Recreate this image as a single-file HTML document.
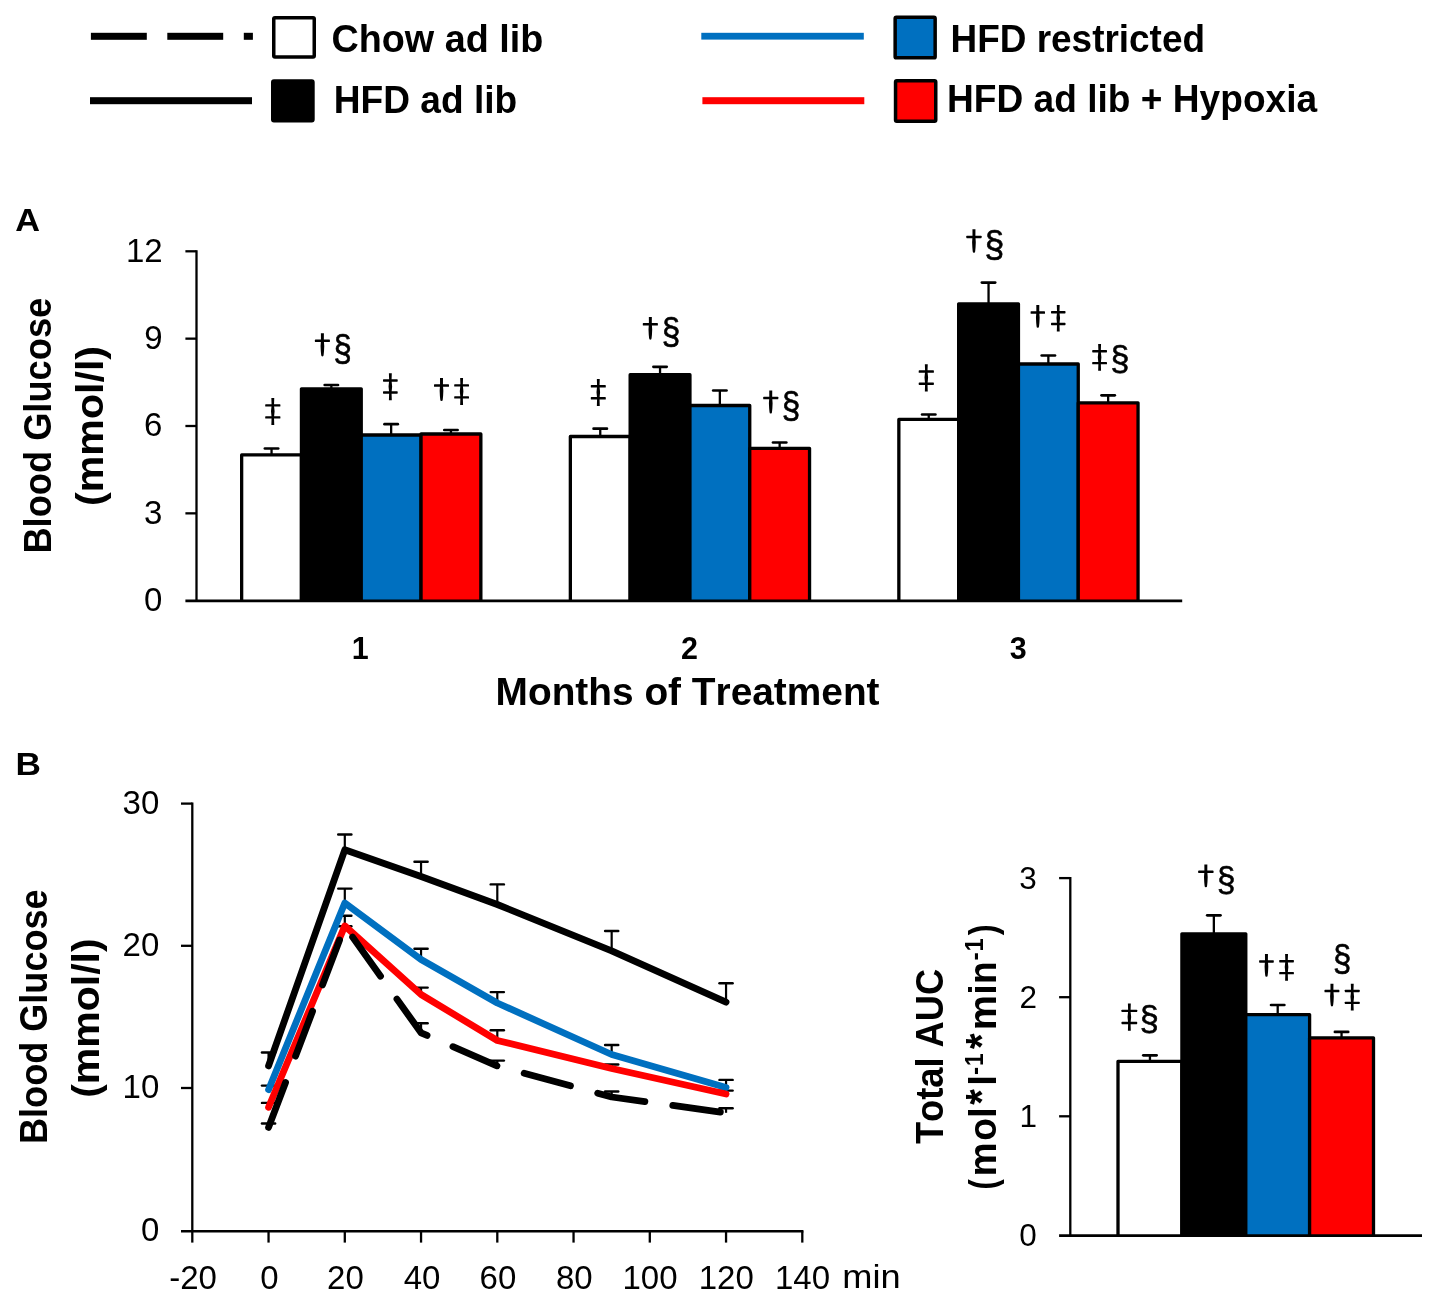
<!DOCTYPE html>
<html><head><meta charset="utf-8"><style>
html,body{margin:0;padding:0;background:#fff;}
svg{display:block;will-change:transform;}
text{font-family:"Liberation Sans", sans-serif;font-kerning:none;}
</style></head><body>
<svg width="1429" height="1297" viewBox="0 0 1429 1297">
<rect width="1429" height="1297" fill="#fff"/>
<rect x="90.9" y="32.8" width="55.9" height="7" fill="#000"/>
<rect x="167.3" y="32.8" width="55.9" height="7" fill="#000"/>
<rect x="243.8" y="32.8" width="9.1" height="7" fill="#000"/>
<rect x="90" y="97.2" width="162" height="7" fill="#000"/>
<rect x="701.3" y="32.800000000000004" width="162.5" height="6.8" fill="#0070C0"/>
<rect x="702.4" y="97.2" width="161.9" height="7" fill="#FF0000"/>
<rect x="273.75" y="17.65" width="40.50" height="39.30" rx="1.2" fill="#fff" stroke="#000" stroke-width="3.5"/>
<rect x="272.75" y="80.95" width="40.20" height="39.70" rx="1.2" fill="#000" stroke="#000" stroke-width="3.5"/>
<rect x="895.15" y="17.35" width="40.00" height="40.50" rx="1.2" fill="#0070C0" stroke="#000" stroke-width="3.5"/>
<rect x="895.55" y="80.75" width="40.20" height="40.40" rx="1.2" fill="#FF0000" stroke="#000" stroke-width="3.5"/>
<text x="331.45" y="51.80" font-size="39.7" font-weight="bold" textLength="211.80" lengthAdjust="spacingAndGlyphs" fill="#000" >Chow ad lib</text>
<text x="333.82" y="112.80" font-size="39.7" font-weight="bold" textLength="183.40" lengthAdjust="spacingAndGlyphs" fill="#000" >HFD ad lib</text>
<text x="950.53" y="51.60" font-size="39.7" font-weight="bold" textLength="254.51" lengthAdjust="spacingAndGlyphs" fill="#000" >HFD restricted</text>
<text x="947.02" y="111.90" font-size="39.7" font-weight="bold" textLength="370.15" lengthAdjust="spacingAndGlyphs" fill="#000" >HFD ad lib + Hypoxia</text>
<text x="15.15" y="231.40" font-size="31.5" font-weight="bold" textLength="24.76" lengthAdjust="spacingAndGlyphs" fill="#000" >A</text>
<text x="15.64" y="775.30" font-size="31.5" font-weight="bold" textLength="25.46" lengthAdjust="spacingAndGlyphs" fill="#000" >B</text>
<line x1="196.5" y1="250.15" x2="196.5" y2="600.70" stroke="#000" stroke-width="2.3"/>
<line x1="185.4" y1="513.35" x2="196.5" y2="513.35" stroke="#000" stroke-width="2.3"/>
<line x1="185.4" y1="426.00" x2="196.5" y2="426.00" stroke="#000" stroke-width="2.3"/>
<line x1="185.4" y1="338.65" x2="196.5" y2="338.65" stroke="#000" stroke-width="2.3"/>
<line x1="185.4" y1="251.30" x2="196.5" y2="251.30" stroke="#000" stroke-width="2.3"/>
<text x="143.94" y="610.90" font-size="33" font-weight="normal" textLength="18.35" lengthAdjust="spacingAndGlyphs" fill="#000" >0</text>
<text x="144.10" y="523.55" font-size="33" font-weight="normal" textLength="18.35" lengthAdjust="spacingAndGlyphs" fill="#000" >3</text>
<text x="144.10" y="436.20" font-size="33" font-weight="normal" textLength="18.35" lengthAdjust="spacingAndGlyphs" fill="#000" >6</text>
<text x="144.21" y="348.85" font-size="33" font-weight="normal" textLength="18.35" lengthAdjust="spacingAndGlyphs" fill="#000" >9</text>
<text x="125.95" y="261.50" font-size="33" font-weight="normal" textLength="36.71" lengthAdjust="spacingAndGlyphs" fill="#000" >12</text>
<path d="M241.65,600.70 V454.90 H301.45 V600.70" fill="#fff" stroke="#000" stroke-width="3.3" stroke-linejoin="round"/>
<path d="M301.45,600.70 V388.80 H361.25 V600.70" fill="#000" stroke="#000" stroke-width="3.3" stroke-linejoin="round"/>
<path d="M361.25,600.70 V435.00 H421.05 V600.70" fill="#0070C0" stroke="#000" stroke-width="3.3" stroke-linejoin="round"/>
<path d="M421.05,600.70 V434.00 H480.85 V600.70" fill="#FF0000" stroke="#000" stroke-width="3.3" stroke-linejoin="round"/>
<line x1="271.55" y1="454.90" x2="271.55" y2="448.50" stroke="#000" stroke-width="2.3"/>
<line x1="264.90" y1="448.50" x2="278.20" y2="448.50" stroke="#000" stroke-width="2.6999999999999997" stroke-linecap="round"/>
<line x1="331.35" y1="388.80" x2="331.35" y2="385.00" stroke="#000" stroke-width="2.3"/>
<line x1="324.70" y1="385.00" x2="338.00" y2="385.00" stroke="#000" stroke-width="2.6999999999999997" stroke-linecap="round"/>
<line x1="391.15" y1="435.00" x2="391.15" y2="424.20" stroke="#000" stroke-width="2.3"/>
<line x1="384.50" y1="424.20" x2="397.80" y2="424.20" stroke="#000" stroke-width="2.6999999999999997" stroke-linecap="round"/>
<line x1="450.95" y1="434.00" x2="450.95" y2="430.00" stroke="#000" stroke-width="2.3"/>
<line x1="444.30" y1="430.00" x2="457.60" y2="430.00" stroke="#000" stroke-width="2.6999999999999997" stroke-linecap="round"/>
<path d="M570.35,600.70 V436.50 H630.15 V600.70" fill="#fff" stroke="#000" stroke-width="3.3" stroke-linejoin="round"/>
<path d="M630.15,600.70 V374.70 H689.95 V600.70" fill="#000" stroke="#000" stroke-width="3.3" stroke-linejoin="round"/>
<path d="M689.95,600.70 V405.50 H749.75 V600.70" fill="#0070C0" stroke="#000" stroke-width="3.3" stroke-linejoin="round"/>
<path d="M749.75,600.70 V448.30 H809.55 V600.70" fill="#FF0000" stroke="#000" stroke-width="3.3" stroke-linejoin="round"/>
<line x1="600.25" y1="436.50" x2="600.25" y2="428.70" stroke="#000" stroke-width="2.3"/>
<line x1="593.60" y1="428.70" x2="606.90" y2="428.70" stroke="#000" stroke-width="2.6999999999999997" stroke-linecap="round"/>
<line x1="660.05" y1="374.70" x2="660.05" y2="366.80" stroke="#000" stroke-width="2.3"/>
<line x1="653.40" y1="366.80" x2="666.70" y2="366.80" stroke="#000" stroke-width="2.6999999999999997" stroke-linecap="round"/>
<line x1="719.85" y1="405.50" x2="719.85" y2="390.50" stroke="#000" stroke-width="2.3"/>
<line x1="713.20" y1="390.50" x2="726.50" y2="390.50" stroke="#000" stroke-width="2.6999999999999997" stroke-linecap="round"/>
<line x1="779.65" y1="448.30" x2="779.65" y2="442.50" stroke="#000" stroke-width="2.3"/>
<line x1="773.00" y1="442.50" x2="786.30" y2="442.50" stroke="#000" stroke-width="2.6999999999999997" stroke-linecap="round"/>
<path d="M898.85,600.70 V419.40 H958.65 V600.70" fill="#fff" stroke="#000" stroke-width="3.3" stroke-linejoin="round"/>
<path d="M958.65,600.70 V303.80 H1018.45 V600.70" fill="#000" stroke="#000" stroke-width="3.3" stroke-linejoin="round"/>
<path d="M1018.45,600.70 V364.00 H1078.25 V600.70" fill="#0070C0" stroke="#000" stroke-width="3.3" stroke-linejoin="round"/>
<path d="M1078.25,600.70 V402.80 H1138.05 V600.70" fill="#FF0000" stroke="#000" stroke-width="3.3" stroke-linejoin="round"/>
<line x1="928.75" y1="419.40" x2="928.75" y2="414.50" stroke="#000" stroke-width="2.3"/>
<line x1="922.10" y1="414.50" x2="935.40" y2="414.50" stroke="#000" stroke-width="2.6999999999999997" stroke-linecap="round"/>
<line x1="988.55" y1="303.80" x2="988.55" y2="282.60" stroke="#000" stroke-width="2.3"/>
<line x1="981.90" y1="282.60" x2="995.20" y2="282.60" stroke="#000" stroke-width="2.6999999999999997" stroke-linecap="round"/>
<line x1="1048.35" y1="364.00" x2="1048.35" y2="355.50" stroke="#000" stroke-width="2.3"/>
<line x1="1041.70" y1="355.50" x2="1055.00" y2="355.50" stroke="#000" stroke-width="2.6999999999999997" stroke-linecap="round"/>
<line x1="1108.15" y1="402.80" x2="1108.15" y2="395.30" stroke="#000" stroke-width="2.3"/>
<line x1="1101.50" y1="395.30" x2="1114.80" y2="395.30" stroke="#000" stroke-width="2.6999999999999997" stroke-linecap="round"/>
<line x1="185.4" y1="600.90" x2="1182.2" y2="600.90" stroke="#000" stroke-width="2.6"/>
<text x="351.73" y="658.50" font-size="30.5" font-weight="bold" textLength="16.96" lengthAdjust="spacingAndGlyphs" fill="#000" >1</text>
<text x="681.00" y="658.50" font-size="30.5" font-weight="bold" textLength="16.96" lengthAdjust="spacingAndGlyphs" fill="#000" >2</text>
<text x="1009.72" y="658.50" font-size="30.5" font-weight="bold" textLength="16.96" lengthAdjust="spacingAndGlyphs" fill="#000" >3</text>
<text x="495.60" y="705.00" font-size="39.7" font-weight="bold" textLength="383.97" lengthAdjust="spacingAndGlyphs" fill="#000" >Months of Treatment</text>
<text transform="translate(50.80,551.20) rotate(-90)" x="-2.43" y="0" font-size="39.7" font-weight="bold" textLength="255.87" lengthAdjust="spacingAndGlyphs" fill="#000" >Blood Glucose</text>
<text transform="translate(103.20,503.90) rotate(-90)" x="-2.05" y="0" font-size="39.7" font-weight="bold" textLength="160.00" lengthAdjust="spacingAndGlyphs" fill="#000" >(mmol/l)</text>
<line x1="192.3" y1="802.45" x2="192.3" y2="1231.30" stroke="#000" stroke-width="2.3"/>
<line x1="181" y1="1231.30" x2="803.45" y2="1231.30" stroke="#000" stroke-width="2.5"/>
<line x1="181" y1="1088.00" x2="192.3" y2="1088.00" stroke="#000" stroke-width="2.3"/>
<line x1="181" y1="945.80" x2="192.3" y2="945.80" stroke="#000" stroke-width="2.3"/>
<line x1="181" y1="803.60" x2="192.3" y2="803.60" stroke="#000" stroke-width="2.3"/>
<line x1="192.30" y1="1231.30" x2="192.30" y2="1242.6" stroke="#000" stroke-width="2.3"/>
<line x1="268.55" y1="1231.30" x2="268.55" y2="1242.6" stroke="#000" stroke-width="2.3"/>
<line x1="344.80" y1="1231.30" x2="344.80" y2="1242.6" stroke="#000" stroke-width="2.3"/>
<line x1="421.05" y1="1231.30" x2="421.05" y2="1242.6" stroke="#000" stroke-width="2.3"/>
<line x1="497.30" y1="1231.30" x2="497.30" y2="1242.6" stroke="#000" stroke-width="2.3"/>
<line x1="573.55" y1="1231.30" x2="573.55" y2="1242.6" stroke="#000" stroke-width="2.3"/>
<line x1="649.80" y1="1231.30" x2="649.80" y2="1242.6" stroke="#000" stroke-width="2.3"/>
<line x1="726.05" y1="1231.30" x2="726.05" y2="1242.6" stroke="#000" stroke-width="2.3"/>
<line x1="802.30" y1="1231.30" x2="802.30" y2="1242.6" stroke="#000" stroke-width="2.3"/>
<text x="140.94" y="1240.60" font-size="33" font-weight="normal" textLength="18.35" lengthAdjust="spacingAndGlyphs" fill="#000" >0</text>
<text x="122.58" y="1098.40" font-size="33" font-weight="normal" textLength="36.71" lengthAdjust="spacingAndGlyphs" fill="#000" >10</text>
<text x="122.58" y="956.20" font-size="33" font-weight="normal" textLength="36.71" lengthAdjust="spacingAndGlyphs" fill="#000" >20</text>
<text x="122.58" y="814.00" font-size="33" font-weight="normal" textLength="36.71" lengthAdjust="spacingAndGlyphs" fill="#000" >30</text>
<text x="169.16" y="1288.80" font-size="33" font-weight="normal" textLength="47.70" lengthAdjust="spacingAndGlyphs" fill="#000" >-20</text>
<text x="260.17" y="1288.80" font-size="33" font-weight="normal" textLength="18.35" lengthAdjust="spacingAndGlyphs" fill="#000" >0</text>
<text x="327.06" y="1288.80" font-size="33" font-weight="normal" textLength="36.71" lengthAdjust="spacingAndGlyphs" fill="#000" >20</text>
<text x="403.76" y="1288.80" font-size="33" font-weight="normal" textLength="36.71" lengthAdjust="spacingAndGlyphs" fill="#000" >40</text>
<text x="479.55" y="1288.80" font-size="33" font-weight="normal" textLength="36.71" lengthAdjust="spacingAndGlyphs" fill="#000" >60</text>
<text x="555.92" y="1288.80" font-size="33" font-weight="normal" textLength="36.71" lengthAdjust="spacingAndGlyphs" fill="#000" >80</text>
<text x="622.46" y="1288.80" font-size="33" font-weight="normal" textLength="55.06" lengthAdjust="spacingAndGlyphs" fill="#000" >100</text>
<text x="698.71" y="1288.80" font-size="33" font-weight="normal" textLength="55.06" lengthAdjust="spacingAndGlyphs" fill="#000" >120</text>
<text x="774.96" y="1288.80" font-size="33" font-weight="normal" textLength="55.06" lengthAdjust="spacingAndGlyphs" fill="#000" >140</text>
<text x="842.29" y="1288.10" font-size="33" font-weight="normal" textLength="58.36" lengthAdjust="spacingAndGlyphs" fill="#000" >min</text>
<text transform="translate(46.90,1141.60) rotate(-90)" x="-2.41" y="0" font-size="39.7" font-weight="bold" textLength="254.65" lengthAdjust="spacingAndGlyphs" fill="#000" >Blood Glucose</text>
<text transform="translate(99.00,1095.80) rotate(-90)" x="-2.04" y="0" font-size="39.7" font-weight="bold" textLength="159.49" lengthAdjust="spacingAndGlyphs" fill="#000" >(mmol/l)</text>
<line x1="268.55" y1="1127.40" x2="268.55" y2="1123.50" stroke="#000" stroke-width="2.2"/>
<line x1="261.95" y1="1123.50" x2="275.15" y2="1123.50" stroke="#000" stroke-width="2.4" stroke-linecap="round"/>
<line x1="344.80" y1="926.20" x2="344.80" y2="926.20" stroke="#000" stroke-width="2.2"/>
<line x1="338.20" y1="926.20" x2="351.40" y2="926.20" stroke="#000" stroke-width="2.4" stroke-linecap="round"/>
<line x1="421.05" y1="1032.80" x2="421.05" y2="1023.20" stroke="#000" stroke-width="2.2"/>
<line x1="414.45" y1="1023.20" x2="427.65" y2="1023.20" stroke="#000" stroke-width="2.4" stroke-linecap="round"/>
<line x1="497.30" y1="1066.00" x2="497.30" y2="1060.60" stroke="#000" stroke-width="2.2"/>
<line x1="490.70" y1="1060.60" x2="503.90" y2="1060.60" stroke="#000" stroke-width="2.4" stroke-linecap="round"/>
<line x1="611.67" y1="1097.00" x2="611.67" y2="1091.50" stroke="#000" stroke-width="2.2"/>
<line x1="605.07" y1="1091.50" x2="618.27" y2="1091.50" stroke="#000" stroke-width="2.4" stroke-linecap="round"/>
<line x1="726.05" y1="1112.80" x2="726.05" y2="1108.20" stroke="#000" stroke-width="2.2"/>
<line x1="719.45" y1="1108.20" x2="732.65" y2="1108.20" stroke="#000" stroke-width="2.4" stroke-linecap="round"/>
<line x1="268.55" y1="1107.30" x2="268.55" y2="1102.90" stroke="#000" stroke-width="2.2"/>
<line x1="261.95" y1="1102.90" x2="275.15" y2="1102.90" stroke="#000" stroke-width="2.4" stroke-linecap="round"/>
<line x1="344.80" y1="925.90" x2="344.80" y2="915.80" stroke="#000" stroke-width="2.2"/>
<line x1="338.20" y1="915.80" x2="351.40" y2="915.80" stroke="#000" stroke-width="2.4" stroke-linecap="round"/>
<line x1="421.05" y1="994.50" x2="421.05" y2="987.60" stroke="#000" stroke-width="2.2"/>
<line x1="414.45" y1="987.60" x2="427.65" y2="987.60" stroke="#000" stroke-width="2.4" stroke-linecap="round"/>
<line x1="497.30" y1="1040.50" x2="497.30" y2="1030.20" stroke="#000" stroke-width="2.2"/>
<line x1="490.70" y1="1030.20" x2="503.90" y2="1030.20" stroke="#000" stroke-width="2.4" stroke-linecap="round"/>
<line x1="611.67" y1="1068.50" x2="611.67" y2="1064.50" stroke="#000" stroke-width="2.2"/>
<line x1="605.07" y1="1064.50" x2="618.27" y2="1064.50" stroke="#000" stroke-width="2.4" stroke-linecap="round"/>
<line x1="726.05" y1="1094.00" x2="726.05" y2="1090.60" stroke="#000" stroke-width="2.2"/>
<line x1="719.45" y1="1090.60" x2="732.65" y2="1090.60" stroke="#000" stroke-width="2.4" stroke-linecap="round"/>
<line x1="268.55" y1="1089.70" x2="268.55" y2="1085.60" stroke="#000" stroke-width="2.2"/>
<line x1="261.95" y1="1085.60" x2="275.15" y2="1085.60" stroke="#000" stroke-width="2.4" stroke-linecap="round"/>
<line x1="344.80" y1="903.00" x2="344.80" y2="888.60" stroke="#000" stroke-width="2.2"/>
<line x1="338.20" y1="888.60" x2="351.40" y2="888.60" stroke="#000" stroke-width="2.4" stroke-linecap="round"/>
<line x1="421.05" y1="959.50" x2="421.05" y2="948.80" stroke="#000" stroke-width="2.2"/>
<line x1="414.45" y1="948.80" x2="427.65" y2="948.80" stroke="#000" stroke-width="2.4" stroke-linecap="round"/>
<line x1="497.30" y1="1003.00" x2="497.30" y2="992.10" stroke="#000" stroke-width="2.2"/>
<line x1="490.70" y1="992.10" x2="503.90" y2="992.10" stroke="#000" stroke-width="2.4" stroke-linecap="round"/>
<line x1="611.67" y1="1054.50" x2="611.67" y2="1045.00" stroke="#000" stroke-width="2.2"/>
<line x1="605.07" y1="1045.00" x2="618.27" y2="1045.00" stroke="#000" stroke-width="2.4" stroke-linecap="round"/>
<line x1="726.05" y1="1087.40" x2="726.05" y2="1079.90" stroke="#000" stroke-width="2.2"/>
<line x1="719.45" y1="1079.90" x2="732.65" y2="1079.90" stroke="#000" stroke-width="2.4" stroke-linecap="round"/>
<line x1="268.55" y1="1065.90" x2="268.55" y2="1052.50" stroke="#000" stroke-width="2.2"/>
<line x1="261.95" y1="1052.50" x2="275.15" y2="1052.50" stroke="#000" stroke-width="2.4" stroke-linecap="round"/>
<line x1="344.80" y1="849.80" x2="344.80" y2="834.50" stroke="#000" stroke-width="2.2"/>
<line x1="338.20" y1="834.50" x2="351.40" y2="834.50" stroke="#000" stroke-width="2.4" stroke-linecap="round"/>
<line x1="421.05" y1="876.50" x2="421.05" y2="861.70" stroke="#000" stroke-width="2.2"/>
<line x1="414.45" y1="861.70" x2="427.65" y2="861.70" stroke="#000" stroke-width="2.4" stroke-linecap="round"/>
<line x1="497.30" y1="904.50" x2="497.30" y2="884.40" stroke="#000" stroke-width="2.2"/>
<line x1="490.70" y1="884.40" x2="503.90" y2="884.40" stroke="#000" stroke-width="2.4" stroke-linecap="round"/>
<line x1="611.67" y1="950.80" x2="611.67" y2="931.00" stroke="#000" stroke-width="2.2"/>
<line x1="605.07" y1="931.00" x2="618.27" y2="931.00" stroke="#000" stroke-width="2.4" stroke-linecap="round"/>
<line x1="726.05" y1="1002.20" x2="726.05" y2="983.30" stroke="#000" stroke-width="2.2"/>
<line x1="719.45" y1="983.30" x2="732.65" y2="983.30" stroke="#000" stroke-width="2.4" stroke-linecap="round"/>
<polyline points="268.55,1065.90 344.80,849.80 421.05,876.50 497.30,904.50 611.67,950.80 726.05,1002.20" fill="none" stroke="#000" stroke-width="6.8" stroke-linecap="round" stroke-linejoin="round"/>
<polyline points="268.55,1089.70 344.80,903.00 421.05,959.50 497.30,1003.00 611.67,1054.50 726.05,1087.40" fill="none" stroke="#0070C0" stroke-width="6.8" stroke-linecap="round" stroke-linejoin="round"/>
<polyline points="268.55,1107.30 344.80,925.90 421.05,994.50 497.30,1040.50 611.67,1068.50 726.05,1094.00" fill="none" stroke="#FF0000" stroke-width="6.8" stroke-linecap="round" stroke-linejoin="round"/>
<polyline points="268.55,1127.40 344.80,926.20 421.05,1032.80 497.30,1066.00 611.67,1097.00 726.05,1112.80" fill="none" stroke="#000" stroke-width="6.8" stroke-linecap="round" stroke-linejoin="round" stroke-dasharray="48 28.2"/>
<line x1="1070.3" y1="876.95" x2="1070.3" y2="1235.40" stroke="#000" stroke-width="2.3"/>
<line x1="1059.1" y1="1116.30" x2="1070.3" y2="1116.30" stroke="#000" stroke-width="2.3"/>
<line x1="1059.1" y1="997.20" x2="1070.3" y2="997.20" stroke="#000" stroke-width="2.3"/>
<line x1="1059.1" y1="878.10" x2="1070.3" y2="878.10" stroke="#000" stroke-width="2.3"/>
<text x="1019.21" y="1246.40" font-size="31.5" font-weight="normal" textLength="17.52" lengthAdjust="spacingAndGlyphs" fill="#000" >0</text>
<text x="1019.52" y="1127.30" font-size="31.5" font-weight="normal" textLength="17.52" lengthAdjust="spacingAndGlyphs" fill="#000" >1</text>
<text x="1019.57" y="1008.20" font-size="31.5" font-weight="normal" textLength="17.52" lengthAdjust="spacingAndGlyphs" fill="#000" >2</text>
<text x="1019.37" y="889.10" font-size="31.5" font-weight="normal" textLength="17.52" lengthAdjust="spacingAndGlyphs" fill="#000" >3</text>
<path d="M1118.00,1235.40 V1061.30 H1181.90 V1235.40" fill="#fff" stroke="#000" stroke-width="3.3" stroke-linejoin="round"/>
<path d="M1181.90,1235.40 V933.80 H1245.80 V1235.40" fill="#000" stroke="#000" stroke-width="3.3" stroke-linejoin="round"/>
<path d="M1245.80,1235.40 V1014.60 H1309.60 V1235.40" fill="#0070C0" stroke="#000" stroke-width="3.3" stroke-linejoin="round"/>
<path d="M1309.60,1235.40 V1037.80 H1373.50 V1235.40" fill="#FF0000" stroke="#000" stroke-width="3.3" stroke-linejoin="round"/>
<line x1="1149.95" y1="1061.30" x2="1149.95" y2="1055.30" stroke="#000" stroke-width="2.3"/>
<line x1="1143.30" y1="1055.30" x2="1156.60" y2="1055.30" stroke="#000" stroke-width="2.6999999999999997" stroke-linecap="round"/>
<line x1="1213.85" y1="933.80" x2="1213.85" y2="915.30" stroke="#000" stroke-width="2.3"/>
<line x1="1207.20" y1="915.30" x2="1220.50" y2="915.30" stroke="#000" stroke-width="2.6999999999999997" stroke-linecap="round"/>
<line x1="1277.70" y1="1014.60" x2="1277.70" y2="1005.00" stroke="#000" stroke-width="2.3"/>
<line x1="1271.05" y1="1005.00" x2="1284.35" y2="1005.00" stroke="#000" stroke-width="2.6999999999999997" stroke-linecap="round"/>
<line x1="1341.55" y1="1037.80" x2="1341.55" y2="1031.90" stroke="#000" stroke-width="2.3"/>
<line x1="1334.90" y1="1031.90" x2="1348.20" y2="1031.90" stroke="#000" stroke-width="2.6999999999999997" stroke-linecap="round"/>
<line x1="1059.1" y1="1235.70" x2="1422" y2="1235.70" stroke="#000" stroke-width="2.7"/>
<text transform="translate(943.00,1143.60) rotate(-90)" x="-0.41" y="0" font-size="39.7" font-weight="bold" textLength="175.10" lengthAdjust="spacingAndGlyphs" fill="#000" >Total AUC</text>
<text transform="translate(996.30,1188.00) rotate(-90)" x="-1.54" y="0" font-size="39.7" font-weight="bold" textLength="10.27" lengthAdjust="spacingAndGlyphs" fill="#000" >(</text>
<text transform="translate(996.30,1174.00) rotate(-90)" x="-2.54" y="0" font-size="39.7" font-weight="bold" textLength="34.22" lengthAdjust="spacingAndGlyphs" fill="#000" >m</text>
<text transform="translate(996.30,1139.40) rotate(-90)" x="-1.45" y="0" font-size="39.7" font-weight="bold" textLength="22.70" lengthAdjust="spacingAndGlyphs" fill="#000" >o</text>
<text transform="translate(996.30,1115.30) rotate(-90)" x="-2.70" y="0" font-size="39.7" font-weight="bold" textLength="10.73" lengthAdjust="spacingAndGlyphs" fill="#000" >l</text>
<text transform="translate(997.30,1104.70) rotate(-90)" x="-0.12" y="0" font-size="44.8" font-weight="bold" textLength="15.56" lengthAdjust="spacingAndGlyphs" fill="#000" >*</text>
<text transform="translate(996.30,1083.00) rotate(-90)" x="-2.70" y="0" font-size="39.7" font-weight="bold" textLength="10.73" lengthAdjust="spacingAndGlyphs" fill="#000" >l</text>
<text transform="translate(983.30,1074.00) rotate(-90)" x="-0.95" y="0" font-size="25.6" font-weight="bold" textLength="8.13" lengthAdjust="spacingAndGlyphs" fill="#000" >-</text>
<text transform="translate(983.30,1064.70) rotate(-90)" x="-1.42" y="0" font-size="25.6" font-weight="bold" textLength="12.55" lengthAdjust="spacingAndGlyphs" fill="#000" >1</text>
<text transform="translate(997.30,1048.90) rotate(-90)" x="-0.12" y="0" font-size="44.8" font-weight="bold" textLength="15.56" lengthAdjust="spacingAndGlyphs" fill="#000" >*</text>
<text transform="translate(996.30,1027.70) rotate(-90)" x="-2.62" y="0" font-size="39.7" font-weight="bold" textLength="35.28" lengthAdjust="spacingAndGlyphs" fill="#000" >m</text>
<text transform="translate(996.30,992.00) rotate(-90)" x="-2.65" y="0" font-size="39.7" font-weight="bold" textLength="10.53" lengthAdjust="spacingAndGlyphs" fill="#000" >i</text>
<text transform="translate(996.30,981.50) rotate(-90)" x="-2.44" y="0" font-size="39.7" font-weight="bold" textLength="22.64" lengthAdjust="spacingAndGlyphs" fill="#000" >n</text>
<text transform="translate(983.30,959.50) rotate(-90)" x="-0.97" y="0" font-size="25.6" font-weight="bold" textLength="8.26" lengthAdjust="spacingAndGlyphs" fill="#000" >-</text>
<text transform="translate(983.30,950.10) rotate(-90)" x="-1.50" y="0" font-size="25.6" font-weight="bold" textLength="13.27" lengthAdjust="spacingAndGlyphs" fill="#000" >1</text>
<text transform="translate(996.30,935.30) rotate(-90)" x="-0.03" y="0" font-size="39.7" font-weight="bold" textLength="10.97" lengthAdjust="spacingAndGlyphs" fill="#000" >)</text>
<rect x="265.20" y="404.19" width="15.20" height="2.4" rx="0.6" fill="#000"/>
<rect x="265.20" y="416.21" width="15.20" height="2.4" rx="0.6" fill="#000"/>
<polygon points="271.35,398.10 271.60,405.39 271.00,411.33 271.60,417.41 271.35,425.10 274.25,425.10 274.00,417.41 274.60,411.33 274.00,405.39 274.25,398.10" fill="#000"/>
<rect x="314.90" y="339.55" width="15.00" height="2.5" rx="0.6" fill="#000"/>
<path d="M320.90,333.20 L320.90,333.20 L320.95,340.19 L320.55,346.01 L320.80,351.37 L321.15,354.87 Q321.15,356.50 322.40,356.50 Q323.65,356.50 323.65,354.87 L323.65,354.87 L324.00,351.37 L324.25,346.01 L323.85,340.19 L323.90,333.20 Z" fill="#000"/>
<text x="333.45" y="360.73" font-size="36.61" font-weight="normal" textLength="18.29" lengthAdjust="spacingAndGlyphs" fill="#000" stroke="#000" stroke-width="0.6">§</text>
<rect x="383.00" y="379.29" width="14.70" height="2.4" rx="0.6" fill="#000"/>
<rect x="383.00" y="391.31" width="14.70" height="2.4" rx="0.6" fill="#000"/>
<polygon points="388.90,373.20 389.15,380.49 388.55,386.43 389.15,392.50 388.90,400.20 391.80,400.20 391.55,392.50 392.15,386.43 391.55,380.49 391.80,373.20" fill="#000"/>
<rect x="434.00" y="384.35" width="15.00" height="2.5" rx="0.6" fill="#000"/>
<path d="M440.00,378.10 L440.00,378.10 L440.05,385.00 L439.65,390.75 L439.90,396.04 L440.25,399.49 Q440.25,401.10 441.50,401.10 Q442.75,401.10 442.75,399.49 L442.75,399.49 L443.10,396.04 L443.35,390.75 L442.95,385.00 L443.00,378.10 Z" fill="#000"/>
<rect x="454.20" y="384.16" width="14.80" height="2.4" rx="0.6" fill="#000"/>
<rect x="454.20" y="396.13" width="14.80" height="2.4" rx="0.6" fill="#000"/>
<polygon points="460.15,378.10 460.40,385.36 459.80,391.28 460.40,397.33 460.15,405.00 463.05,405.00 462.80,397.33 463.40,391.28 462.80,385.36 463.05,378.10" fill="#000"/>
<rect x="590.80" y="385.09" width="15.00" height="2.4" rx="0.6" fill="#000"/>
<rect x="590.80" y="397.11" width="15.00" height="2.4" rx="0.6" fill="#000"/>
<polygon points="596.85,379.00 597.10,386.29 596.50,392.23 597.10,398.31 596.85,406.00 599.75,406.00 599.50,398.31 600.10,392.23 599.50,386.29 599.75,379.00" fill="#000"/>
<rect x="642.80" y="323.08" width="15.10" height="2.5" rx="0.6" fill="#000"/>
<path d="M648.85,316.90 L648.85,316.90 L648.90,323.74 L648.50,329.44 L648.75,334.68 L649.10,338.10 Q649.10,339.70 650.35,339.70 Q651.60,339.70 651.60,338.10 L651.60,338.10 L651.95,334.68 L652.20,329.44 L651.80,323.74 L651.85,316.90 Z" fill="#000"/>
<text x="661.73" y="344.32" font-size="36.73" font-weight="normal" textLength="18.54" lengthAdjust="spacingAndGlyphs" fill="#000" stroke="#000" stroke-width="0.6">§</text>
<rect x="763.20" y="396.75" width="15.10" height="2.5" rx="0.6" fill="#000"/>
<path d="M769.25,390.50 L769.25,390.50 L769.30,397.40 L768.90,403.15 L769.15,408.44 L769.50,411.89 Q769.50,413.50 770.75,413.50 Q772.00,413.50 772.00,411.89 L772.00,411.89 L772.35,408.44 L772.60,403.15 L772.20,397.40 L772.25,390.50 Z" fill="#000"/>
<text x="781.73" y="417.93" font-size="36.61" font-weight="normal" textLength="18.54" lengthAdjust="spacingAndGlyphs" fill="#000" stroke="#000" stroke-width="0.6">§</text>
<rect x="918.70" y="370.37" width="15.20" height="2.4" rx="0.6" fill="#000"/>
<rect x="918.70" y="382.52" width="15.20" height="2.4" rx="0.6" fill="#000"/>
<polygon points="924.85,364.20 925.10,371.57 924.50,377.58 925.10,383.72 924.85,391.50 927.75,391.50 927.50,383.72 928.10,377.58 927.50,371.57 927.75,364.20" fill="#000"/>
<rect x="966.30" y="235.64" width="15.30" height="2.5" rx="0.6" fill="#000"/>
<path d="M972.45,229.20 L972.45,229.20 L972.50,236.28 L972.10,242.18 L972.35,247.61 L972.70,251.15 Q972.70,252.80 973.95,252.80 Q975.20,252.80 975.20,251.15 L975.20,251.15 L975.55,247.61 L975.80,242.18 L975.40,236.28 L975.45,229.20 Z" fill="#000"/>
<text x="984.40" y="257.16" font-size="37.35" font-weight="normal" textLength="19.80" lengthAdjust="spacingAndGlyphs" fill="#000" stroke="#000" stroke-width="0.6">§</text>
<rect x="1030.60" y="311.25" width="14.40" height="2.5" rx="0.6" fill="#000"/>
<path d="M1036.30,305.10 L1036.30,305.10 L1036.35,311.91 L1035.95,317.59 L1036.20,322.81 L1036.55,326.21 Q1036.55,327.80 1037.80,327.80 Q1039.05,327.80 1039.05,326.21 L1039.05,326.21 L1039.40,322.81 L1039.65,317.59 L1039.25,311.91 L1039.30,305.10 Z" fill="#000"/>
<rect x="1051.00" y="311.03" width="14.50" height="2.4" rx="0.6" fill="#000"/>
<rect x="1051.00" y="322.78" width="14.50" height="2.4" rx="0.6" fill="#000"/>
<polygon points="1056.80,305.10 1057.05,312.23 1056.45,318.04 1057.05,323.98 1056.80,331.50 1059.70,331.50 1059.45,323.98 1060.05,318.04 1059.45,312.23 1059.70,305.10" fill="#000"/>
<rect x="1092.20" y="350.04" width="14.80" height="2.4" rx="0.6" fill="#000"/>
<rect x="1092.20" y="361.96" width="14.80" height="2.4" rx="0.6" fill="#000"/>
<polygon points="1098.15,344.00 1098.40,351.24 1097.80,357.13 1098.40,363.16 1098.15,370.80 1101.05,370.80 1100.80,363.16 1101.40,357.13 1100.80,351.24 1101.05,344.00" fill="#000"/>
<text x="1110.49" y="371.02" font-size="35.49" font-weight="normal" textLength="18.92" lengthAdjust="spacingAndGlyphs" fill="#000" stroke="#000" stroke-width="0.6">§</text>
<rect x="1121.50" y="1009.72" width="15.70" height="2.4" rx="0.6" fill="#000"/>
<rect x="1121.50" y="1021.78" width="15.70" height="2.4" rx="0.6" fill="#000"/>
<polygon points="1127.90,1003.60 1128.15,1010.92 1127.55,1016.88 1128.15,1022.98 1127.90,1030.70 1130.80,1030.70 1130.55,1022.98 1131.15,1016.88 1130.55,1010.92 1130.80,1003.60" fill="#000"/>
<text x="1139.78" y="1031.11" font-size="35.62" font-weight="normal" textLength="19.05" lengthAdjust="spacingAndGlyphs" fill="#000" stroke="#000" stroke-width="0.6">§</text>
<rect x="1198.20" y="870.62" width="15.30" height="2.5" rx="0.6" fill="#000"/>
<path d="M1204.35,864.40 L1204.35,864.40 L1204.40,871.27 L1204.00,877.00 L1204.25,882.26 L1204.60,885.70 Q1204.60,887.30 1205.85,887.30 Q1207.10,887.30 1207.10,885.70 L1207.10,885.70 L1207.45,882.26 L1207.70,877.00 L1207.30,871.27 L1207.35,864.40 Z" fill="#000"/>
<text x="1217.04" y="892.00" font-size="35.74" font-weight="normal" textLength="18.42" lengthAdjust="spacingAndGlyphs" fill="#000" stroke="#000" stroke-width="0.6">§</text>
<rect x="1259.10" y="960.18" width="14.70" height="2.5" rx="0.6" fill="#000"/>
<path d="M1264.95,954.00 L1264.95,954.00 L1265.00,960.84 L1264.60,966.54 L1264.85,971.78 L1265.20,975.20 Q1265.20,976.80 1266.45,976.80 Q1267.70,976.80 1267.70,975.20 L1267.70,975.20 L1268.05,971.78 L1268.30,966.54 L1267.90,960.84 L1267.95,954.00 Z" fill="#000"/>
<rect x="1279.20" y="960.01" width="14.70" height="2.4" rx="0.6" fill="#000"/>
<rect x="1279.20" y="971.89" width="14.70" height="2.4" rx="0.6" fill="#000"/>
<polygon points="1285.10,954.00 1285.35,961.21 1284.75,967.08 1285.35,973.09 1285.10,980.70 1288.00,980.70 1287.75,973.09 1288.35,967.08 1287.75,961.21 1288.00,954.00" fill="#000"/>
<text x="1332.95" y="971.49" font-size="36.98" font-weight="normal" textLength="18.29" lengthAdjust="spacingAndGlyphs" fill="#000" stroke="#000" stroke-width="0.6">§</text>
<rect x="1324.50" y="989.85" width="14.90" height="2.5" rx="0.6" fill="#000"/>
<path d="M1330.45,983.70 L1330.45,983.70 L1330.50,990.51 L1330.10,996.19 L1330.35,1001.41 L1330.70,1004.81 Q1330.70,1006.40 1331.95,1006.40 Q1333.20,1006.40 1333.20,1004.81 L1333.20,1004.81 L1333.55,1001.41 L1333.80,996.19 L1333.40,990.51 L1333.45,983.70 Z" fill="#000"/>
<rect x="1344.80" y="989.74" width="14.90" height="2.4" rx="0.6" fill="#000"/>
<rect x="1344.80" y="1001.66" width="14.90" height="2.4" rx="0.6" fill="#000"/>
<polygon points="1350.80,983.70 1351.05,990.94 1350.45,996.83 1351.05,1002.86 1350.80,1010.50 1353.70,1010.50 1353.45,1002.86 1354.05,996.83 1353.45,990.94 1353.70,983.70" fill="#000"/>
</svg>
</body></html>
